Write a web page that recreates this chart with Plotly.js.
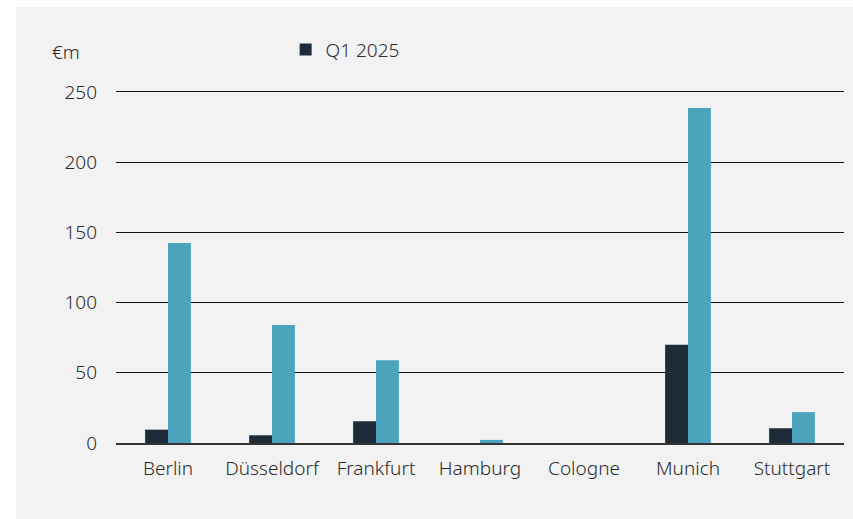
<!DOCTYPE html>
<html>
<head>
<meta charset="utf-8">
<script src="https://cdn.plot.ly/plotly-3.0.1.min.js"></script>
<style>
html,body{margin:0;padding:0;background:#ffffff;}
#chart{position:absolute;left:16px;top:7px;width:837px;height:512px;}
</style>
</head>
<body>
<div id="chart"></div>
<script>
const cities = ["Berlin","Düsseldorf","Frankfurt","Hamburg","Cologne","Munich","Stuttgart"];
const q1_2025 = [9.5, 5.5, 15.5, 0, 0, 70, 10.5];
const q1_2024 = [142.5, 84, 59, 2.2, 0, 238.5, 22];
const yTicks = [0, 50, 100, 150, 200, 250];

const font = {family: "Noto Sans, sans-serif", size: 19, color: "#2b2b2b", weight: 300};

const traces = [
  {type: "bar", name: "Q1 2025", x: cities, y: q1_2025, marker: {color: "#1e2b38"}, showlegend: true, hoverinfo: "x+y"},
  {type: "bar", name: "Q1 2024", x: cities, y: q1_2024, marker: {color: "#4ba3bc"}, showlegend: false, hoverinfo: "x+y"}
];

const layout = {
  width: 837, height: 512,
  paper_bgcolor: "#f2f2f2", plot_bgcolor: "#f2f2f2",
  font: font,
  margin: {l: 100, r: 9, t: 83, b: 76, autoexpand: false},
  barmode: "group", bargap: 0.56, bargroupgap: 0,
  showlegend: true,
  legend: {x: 0.233, xanchor: "left", y: 1.114, yanchor: "middle", orientation: "h", bgcolor: "rgba(0,0,0,0)", font: font, itemwidth: 30},
  xaxis: {type: "category", showgrid: false, zeroline: false, showline: true, linecolor: "#333333", linewidth: 1.5, ticks: "", ticklabelstandoff: 8, tickfont: font, fixedrange: true},
  yaxis: {range: [0, 251.4], tickvals: yTicks, showgrid: true, gridcolor: "#111111", gridwidth: 1, zeroline: false, showline: false, ticks: "", ticklabelstandoff: 18, tickfont: font, fixedrange: true},
  annotations: [{xref: "paper", yref: "paper", x: -0.0907, y: 1.108, xanchor: "left", yanchor: "middle", text: "€m", showarrow: false, font: font}]
};

Plotly.newPlot("chart", traces, layout, {displayModeBar: false, staticPlot: true});
</script>
</body>
</html>
